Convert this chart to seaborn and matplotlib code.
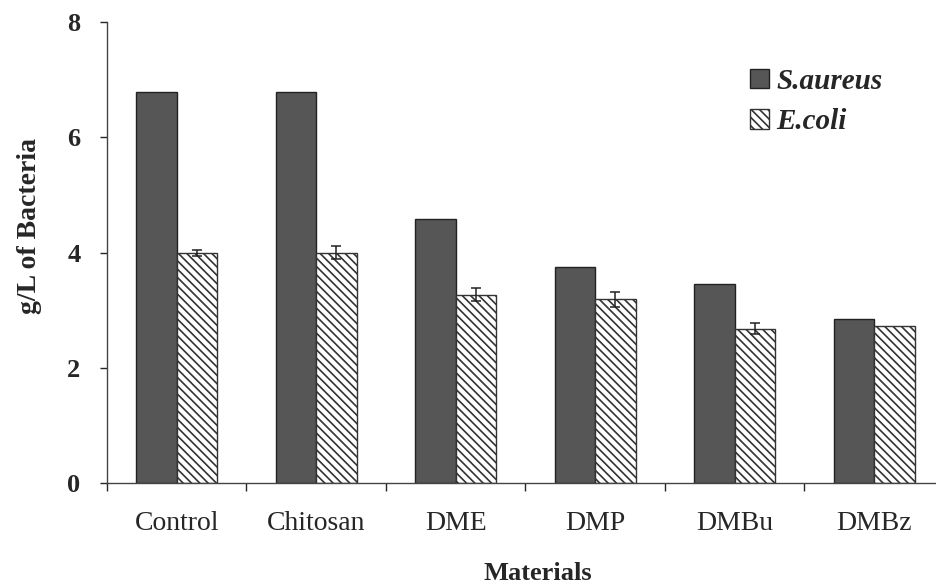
import matplotlib
matplotlib.use("Agg")
import matplotlib.pyplot as plt
import seaborn as sns
import pandas as pd
from matplotlib.patches import Patch
from matplotlib.ticker import FixedLocator

materials = ["Control", "Chitosan", "DME", "DMP", "DMBu", "DMBz"]
s_aureus = [6.79, 6.79, 4.58, 3.75, 3.45, 2.85]
e_coli = [3.99, 4.00, 3.27, 3.19, 2.68, 2.72]
e_coli_err = [0.05, 0.12, 0.11, 0.13, 0.10, 0.0]
series = ["S.aureus", "E.coli"]

df = pd.DataFrame({
    "Materials": materials * 2,
    "value": s_aureus + e_coli,
    "Bacteria": [series[0]] * len(materials) + [series[1]] * len(materials),
})

sns.set_style("white")
plt.rcParams["font.family"] = ["Liberation Serif", "DejaVu Serif"]
plt.rcParams["hatch.linewidth"] = 1.2
plt.rcParams["hatch.color"] = "#333333"

fig = plt.figure(figsize=(9.37, 5.86), dpi=100)
ax = fig.add_axes([107 / 937, 1 - 483 / 586, 1 - 107 / 937, (483 - 22) / 586])

dark = "#565656"
sns.barplot(data=df, x="Materials", y="value", hue="Bacteria", order=materials,
            hue_order=series, palette=[dark, "white"], width=0.58, gap=0,
            errorbar=None, edgecolor="#222222", linewidth=1.0, legend=False, ax=ax)

# hatch the E.coli bars
for p in ax.containers[1].patches:
    p.set_hatch("\\\\\\\\")
    p.set_edgecolor("#333333")

# error bars on E.coli
xs = [p.get_x() + p.get_width() / 2 for p in ax.containers[1].patches]
for x, v, e in zip(xs, e_coli, e_coli_err):
    if e > 0:
        ax.errorbar(x, v, yerr=e, fmt="none", ecolor="#222222", elinewidth=1.1,
                    capsize=3.5, capthick=1.1, zorder=5)

ax.set_ylim(0, 8)
ax.set_xlim(-0.5, 5.45)
ax.set_yticks([0, 2, 4, 6, 8])
for lab in ax.get_yticklabels():
    lab.set_fontweight("bold")
ax.tick_params(axis="y", direction="out", length=5, width=1, pad=14, labelsize=19, left=True)
ax.tick_params(axis="x", which="major", length=0, pad=20, labelsize=20)
ax.xaxis.set_minor_locator(FixedLocator([i - 0.5 for i in range(len(materials))]))
ax.tick_params(axis="x", which="minor", direction="out", length=6, width=1, bottom=True)

for side in ["top", "right"]:
    ax.spines[side].set_visible(False)
for side in ["left", "bottom"]:
    ax.spines[side].set_color("#444444")
    ax.spines[side].set_linewidth(1.0)

ax.set_xlabel("Materials", fontsize=19, fontweight="bold")
ax.xaxis.set_label_coords((538 - 107) / 830, (483 - 573) / 461)
ax.xaxis.label.set_va("center")
ax.set_ylabel("g/L of Bacteria", fontsize=20, fontweight="bold")
ax.yaxis.set_label_coords((30 - 107) / 830, (483 - 226) / 461)
ax.yaxis.label.set_va("center")

handles = [Patch(facecolor=dark, edgecolor="#222222", label=series[0]),
           Patch(facecolor="white", edgecolor="#333333", hatch="\\\\\\\\", label=series[1])]
fig.legend(handles=handles, loc="upper left", bbox_to_anchor=(750 / 937, 1 - 68 / 586),
           frameon=False, borderpad=0, borderaxespad=0, handlelength=0.65,
           handleheight=0.65, handletextpad=0.25, labelspacing=0.45,
           prop={"family": "Liberation Serif", "weight": "bold", "style": "italic", "size": 21})

fig.savefig("out.png", dpi=100, facecolor="white")
